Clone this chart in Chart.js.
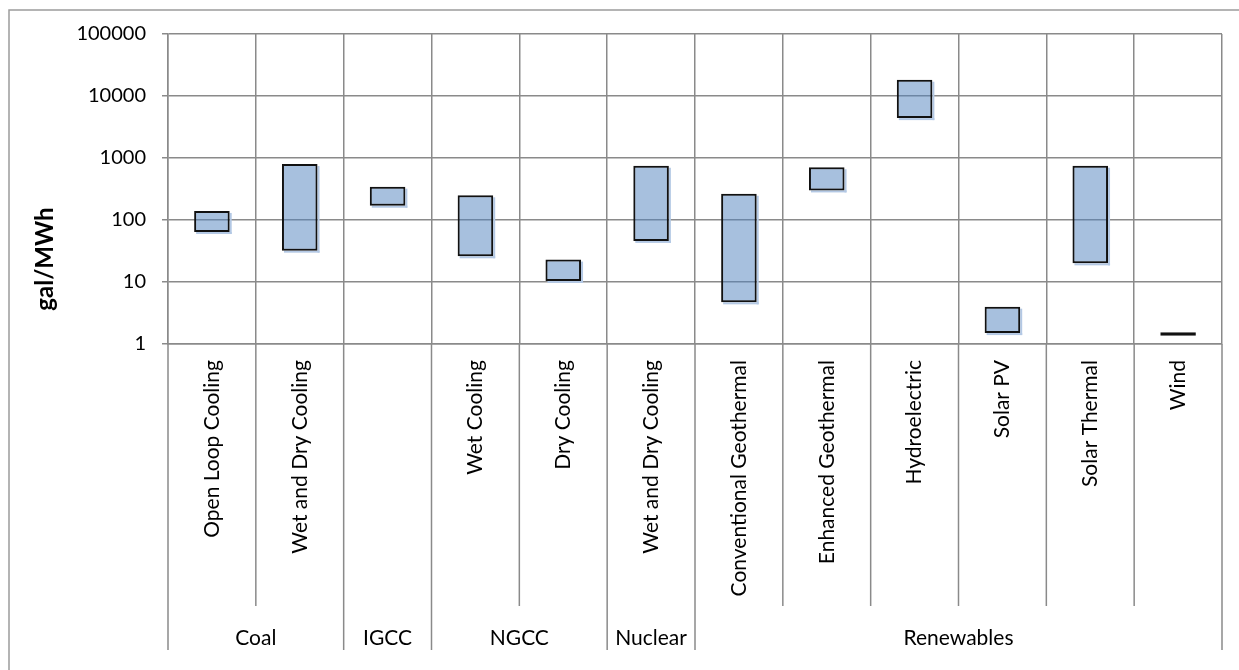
<!DOCTYPE html>
<html>
<head>
<meta charset="utf-8">
<script src="https://cdn.jsdelivr.net/npm/chart.js@4.4.1/dist/chart.umd.min.js"></script>
<style>
  html, body { margin: 0; padding: 0; background: #fff; }
  canvas { display: block; }
</style>
</head>
<body>
<canvas id="c" width="1239" height="670"></canvas>
<script>
// Water consumption ranges by generation technology (gal/MWh)
const categories = [
  'Open Loop Cooling', 'Wet and Dry Cooling', '', 'Wet Cooling', 'Dry Cooling',
  'Wet and Dry Cooling', 'Conventional Geothermal', 'Enhanced Geothermal',
  'Hydroelectric', 'Solar PV', 'Solar Thermal', 'Wind'
];
const groupNames = ['Coal', 'IGCC', 'NGCC', 'Nuclear', 'Renewables'];
const groupSizes = [2, 1, 2, 1, 6];
const lowValues  = [64, 32, 170, 26, 10.4, 46, 4.7, 300, 4400, 1.5, 20, 1.36];
const highValues = [140, 800, 345, 250, 23, 750, 265, 710, 18300, 4, 750, 1.54];
const tickValues = [1, 10, 100, 1000, 10000, 100000];
const axisTitle = 'gal/MWh';

const GRID = '#8a8a8a';
const FONT = 'Lato';
const BAR_FILL = 'rgba(79,129,189,0.5)';
const BAR_EDGE = '#111';

// a box too thin to show its fill is drawn as a solid edge-coloured line
function barHeight(ctx) {
  const el = ctx.chart.getDatasetMeta(ctx.datasetIndex).data[ctx.dataIndex];
  return el ? Math.abs(el.base - el.y) : Infinity;
}

// outer frame of the chart object
const frame = {
  id: 'frame',
  beforeDraw(chart) {
    const ctx = chart.ctx;
    ctx.save();
    ctx.fillStyle = '#fff';
    ctx.fillRect(0, 0, chart.width, chart.height);
    ctx.strokeStyle = '#9c9c9c';
    ctx.lineWidth = 1.5;
    ctx.strokeRect(9, 10, chart.width + 20, chart.height + 20);
    ctx.restore();
  }
};

// light offset shadow along the right and lower edges of each range box
const barShadow = {
  id: 'barShadow',
  beforeDatasetsDraw(chart) {
    const ctx = chart.ctx;
    ctx.save();
    ctx.fillStyle = '#b3c8e4';
    chart.getDatasetMeta(0).data.forEach(el => {
      const h = Math.abs(el.base - el.y);
      if (h < 4) return;
      const left = el.x - el.width / 2;
      const top = Math.min(el.y, el.base);
      ctx.fillRect(left + el.width, top + 2, 2, h);
      ctx.fillRect(left + 2, top + h, el.width, 2);
    });
    ctx.restore();
  }
};

// two-level category axis: separators below the plot and group names
const groupAxis = {
  id: 'groupAxis',
  afterDraw(chart) {
    const { ctx, chartArea: a, scales: { x } } = chart;
    const half = (x.getPixelForValue(1) - x.getPixelForValue(0)) / 2;
    const edge = i => x.getPixelForValue(i) - half;
    const starts = new Set([0]);
    let idx = 0;
    groupSizes.forEach(s => { idx += s; starts.add(idx); });

    ctx.save();
    ctx.strokeStyle = GRID;
    ctx.lineWidth = 1.5;
    for (let i = 0; i <= categories.length; i++) {
      const px = edge(i);
      ctx.beginPath();
      ctx.moveTo(px, a.bottom);
      ctx.lineTo(px, a.bottom + (starts.has(i) ? 306 : 262));
      ctx.stroke();
    }
    ctx.fillStyle = '#000';
    ctx.font = '21px ' + FONT;
    ctx.textAlign = 'center';
    ctx.textBaseline = 'middle';
    let s = 0;
    groupNames.forEach((g, k) => {
      const cx = (edge(s) + edge(s + groupSizes[k])) / 2;
      ctx.fillText(g, cx, a.bottom + 294);
      s += groupSizes[k];
    });

    // value axis title
    ctx.translate(45, 259);
    ctx.rotate(-Math.PI / 2);
    ctx.font = 'bold 24px ' + FONT;
    ctx.fillText(axisTitle, 0, 0);
    ctx.restore();
  }
};

function build() {
  Chart.defaults.font.family = FONT;
  Chart.defaults.color = '#000';
  new Chart(document.getElementById('c'), {
    type: 'bar',
    data: {
      labels: categories,
      datasets: [{
        data: lowValues.map((lo, i) => [lo, highValues[i]]),
        backgroundColor: c => (barHeight(c) < 4 ? BAR_EDGE : BAR_FILL),
        borderColor: BAR_EDGE,
        borderWidth: 2,
        borderSkipped: false,
        categoryPercentage: 1,
        barPercentage: 0.405
      }]
    },
    options: {
      responsive: false,
      animation: false,
      devicePixelRatio: 1,
      layout: { padding: { top: 34, right: 17, left: 0, bottom: 0 } },
      plugins: { legend: { display: false }, tooltip: { enabled: false } },
      scales: {
        x: {
          type: 'category',
          afterFit: s => { s.height = 326; },
          grid: { color: GRID, lineWidth: 1.5, offset: true, drawTicks: false },
          border: { color: GRID, width: 1.5 },
          ticks: {
            autoSkip: false, maxRotation: 90, minRotation: 90, padding: 16,
            font: { size: 21 }
          }
        },
        y: {
          type: 'logarithmic',
          min: 1, max: 100000,
          afterFit: s => { s.width = 168; },
          afterBuildTicks: s => { s.ticks = tickValues.map(v => ({ value: v })); },
          grid: { color: GRID, lineWidth: 1.5, tickLength: 6 },
          border: { color: GRID, width: 1.5 },
          ticks: {
            padding: 16,
            font: { size: 20 },
            callback: v => String(v)
          }
        }
      }
    },
    plugins: [frame, barShadow, groupAxis]
  });
}

Promise.all([
  document.fonts.load('20px ' + FONT),
  document.fonts.load('bold 24px ' + FONT)
]).then(build, build);
</script>
</body>
</html>
